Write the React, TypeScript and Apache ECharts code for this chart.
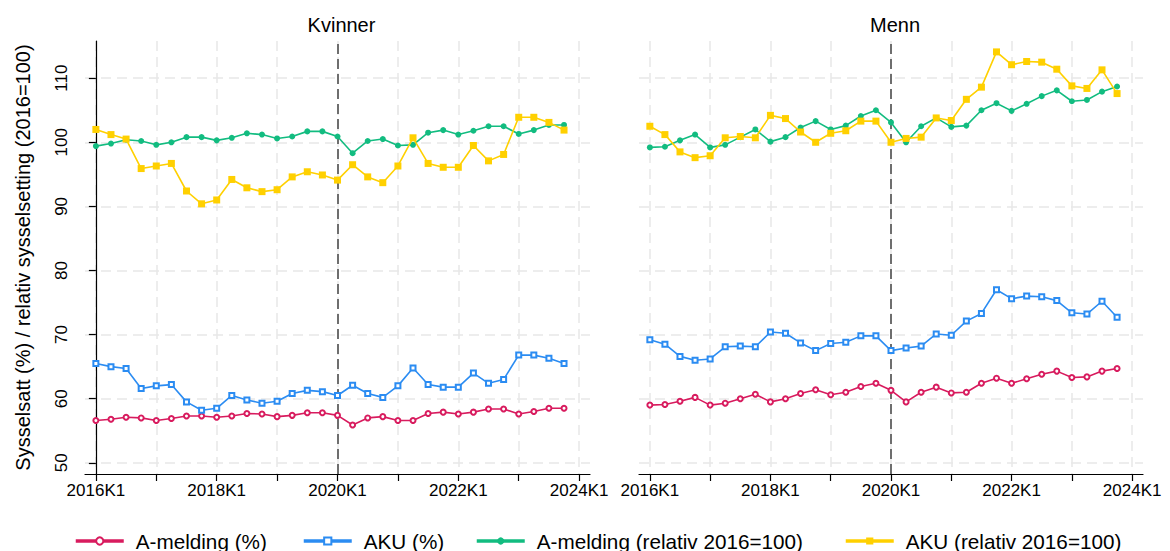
import React, { useEffect, useRef } from "react";
import * as echarts from "echarts";

const quarters: string[] = [];
for (let y = 2016; y <= 2023; y++) for (let q = 1; q <= 4; q++) quarters.push(`${y}K${q}`);

const kvAmeldingPct = [56.6,56.8,57.1,57.0,56.6,56.9,57.3,57.3,57.1,57.3,57.7,57.6,57.2,57.4,57.8,57.8,57.4,55.9,57.0,57.2,56.6,56.6,57.7,57.9,57.6,57.9,58.4,58.4,57.6,58.0,58.5,58.5];
const kvAkuPct = [65.5,65.0,64.7,61.6,62.0,62.2,59.5,58.2,58.5,60.5,59.8,59.3,59.6,60.8,61.3,61.1,60.5,62.1,60.8,60.2,62.0,64.8,62.2,61.8,61.8,64.0,62.4,63.0,66.8,66.8,66.3,65.5];
const kvAmeldingRel = [99.4,99.8,100.4,100.2,99.6,100.0,100.8,100.8,100.3,100.7,101.4,101.2,100.6,100.9,101.7,101.7,100.9,98.3,100.2,100.5,99.5,99.6,101.5,101.9,101.2,101.8,102.5,102.5,101.3,101.9,102.7,102.7];
const kvAkuRel = [102.0,101.2,100.5,95.9,96.3,96.7,92.4,90.4,91.0,94.2,92.9,92.3,92.6,94.6,95.4,94.9,94.1,96.5,94.6,93.7,96.3,100.7,96.7,96.1,96.1,99.5,97.1,98.1,103.9,103.9,103.1,101.9];

const mnAmeldingPct = [59.0,59.1,59.6,60.2,59.0,59.3,60.0,60.7,59.5,60.0,60.8,61.4,60.6,61.0,61.9,62.4,61.3,59.5,61.0,61.8,60.9,61.0,62.4,63.2,62.4,63.1,63.8,64.3,63.3,63.4,64.3,64.7];
const mnAkuPct = [69.2,68.5,66.6,66.0,66.2,68.1,68.2,68.1,70.4,70.2,68.7,67.5,68.6,68.8,69.8,69.8,67.5,67.9,68.2,70.1,69.9,72.1,73.3,77.0,75.6,76.0,75.9,75.3,73.4,73.2,75.2,72.7];
const mnAmeldingRel = [99.2,99.3,100.3,101.2,99.2,99.6,100.8,102.0,100.1,100.8,102.3,103.3,102.0,102.6,104.1,105.0,103.1,100.0,102.5,103.8,102.4,102.6,105.0,106.1,104.9,106.0,107.2,108.1,106.4,106.6,107.9,108.7];
const mnAkuRel = [102.5,101.2,98.5,97.6,97.9,100.7,100.9,100.7,104.2,103.7,101.6,100.0,101.4,101.8,103.3,103.3,100.0,100.6,100.8,103.8,103.4,106.7,108.6,114.1,112.1,112.6,112.5,111.4,108.8,108.4,111.3,107.6];

const panelTitles = ["Kvinner", "Menn"];
const seriesNames = ["A-melding (%)", "AKU (%)", "A-melding (relativ 2016=100)", "AKU (relativ 2016=100)"];
const yTicks = [50, 60, 70, 80, 90, 100, 110];
const tickYears = [2016, 2017, 2018, 2019, 2020, 2021, 2022, 2023, 2024];
const labelYears = [2016, 2018, 2020, 2022, 2024];
const breakQuarter = "2020K1";
const yAxisTitle = "Sysselsatt (%) / relativ sysselsetting (2016=100)";

const colors = ["#D81B5E", "#2B8CF2", "#12BC80", "#FFD000"];
const FONT = "'Liberation Sans', Arial, sans-serif";
const legendLefts = [74, 302, 475, 844];

const yearToX = (y: number) => (y - 2016) * 4;
const toPairs = (arr: number[]) => arr.map((v, i) => [i, v]);

export default function App() {
  const ref = useRef<HTMLDivElement>(null);
  useEffect(() => {
    if (!ref.current) return;
    const chart = echarts.init(ref.current, null, { renderer: "svg" });
    const grids = [
      { left: 85, top: 41, width: 505, height: 433 },
      { left: 639, top: 41, width: 504, height: 433 },
    ];
    const splitLine = { show: true, lineStyle: { color: "#e8e8e8", width: 1.5, type: [10, 6] as any } };
    const xAxes = grids.map((_, gi) => ({
      type: "value",
      gridIndex: gi,
      min: -0.72,
      max: 32.72,
      axisLine: { show: true, onZero: false, lineStyle: { color: "#000", width: 1.2 } },
      axisTick: { show: true, length: 7, lineStyle: { color: "#000", width: 1.2 }, customValues: tickYears.map(yearToX) },
      axisLabel: {
        show: true,
        color: "#000",
        fontSize: 17,
        fontFamily: FONT,
        margin: 8,
        customValues: labelYears.map(yearToX),
        formatter: (v: number) => `${Math.round(2016 + v / 4)}K1`,
      },
      splitLine,
    }));
    const yAxes = grids.map((_, gi) => ({
      type: "value",
      gridIndex: gi,
      min: 48.25,
      max: 115.8,
      name: gi === 0 ? yAxisTitle : "",
      nameLocation: "middle",
      nameGap: 52,
      nameTextStyle: { color: "#000", fontSize: 20, fontFamily: FONT },
      axisLine: { show: gi === 0, lineStyle: { color: "#000", width: 1.2 } },
      axisTick: { show: gi === 0, length: 7, lineStyle: { color: "#000", width: 1.2 }, customValues: yTicks },
      axisLabel: {
        show: gi === 0,
        color: "#000",
        fontSize: 17,
        fontFamily: FONT,
        rotate: 90,
        margin: 15,
        customValues: yTicks,
      },
      splitLine,
    }));

    const panels = [
      [kvAmeldingPct, kvAkuPct, kvAmeldingRel, kvAkuRel],
      [mnAmeldingPct, mnAkuPct, mnAmeldingRel, mnAkuRel],
    ];
    const symbols = ["emptyCircle", "emptyRect", "circle", "rect"];
    const symbolSizes = [5, 5, 6, 7];
    const series: any[] = [];
    panels.forEach((sets, gi) => {
      sets.forEach((arr, si) => {
        series.push({
          type: "line",
          name: seriesNames[si],
          xAxisIndex: gi,
          yAxisIndex: gi,
          data: toPairs(arr),
          symbol: symbols[si],
          symbolSize: symbolSizes[si],
          showSymbol: true,
          color: colors[si],
          lineStyle: { width: 1.6, color: colors[si] },
          itemStyle: { color: colors[si], borderColor: colors[si], borderWidth: si < 2 ? 1.5 : 0 },
          z: 3 + si,
          markLine:
            si === 0
              ? {
                  silent: true,
                  symbol: ["none", "none"],
                  label: { show: false },
                  lineStyle: { color: "#6e6e6e", width: 2, type: [10, 5] },
                  data: [{ xAxis: quarters.indexOf(breakQuarter) }],
                  z: 2,
                }
              : undefined,
        });
      });
    });

    chart.setOption({
      animation: false,
      backgroundColor: "#fff",
      title: panelTitles.map((t, i) => ({
        text: t,
        left: grids[i].left + grids[i].width / 2 - 1,
        top: 10,
        textAlign: "center",
        textStyle: { color: "#000", fontSize: 20, fontWeight: "normal", fontFamily: FONT },
      })),
      legend: seriesNames.map((n, i) => ({
        data: [n],
        left: legendLefts[i],
        top: 530,
        padding: 0,
        itemWidth: 48,
        itemHeight: 9,
        lineStyle: { width: 3.5 },
        textStyle: { color: "#000", fontSize: 20.7, fontFamily: FONT, lineHeight: 22, padding: [0, 0, 0, 7] },
      })),
      grid: grids,
      xAxis: xAxes,
      yAxis: yAxes,
      series,
    } as any);
    return () => chart.dispose();
  }, []);
  return <div ref={ref} style={{ position: "fixed", left: 0, top: 0, width: 1170, height: 551 }} />;
}
